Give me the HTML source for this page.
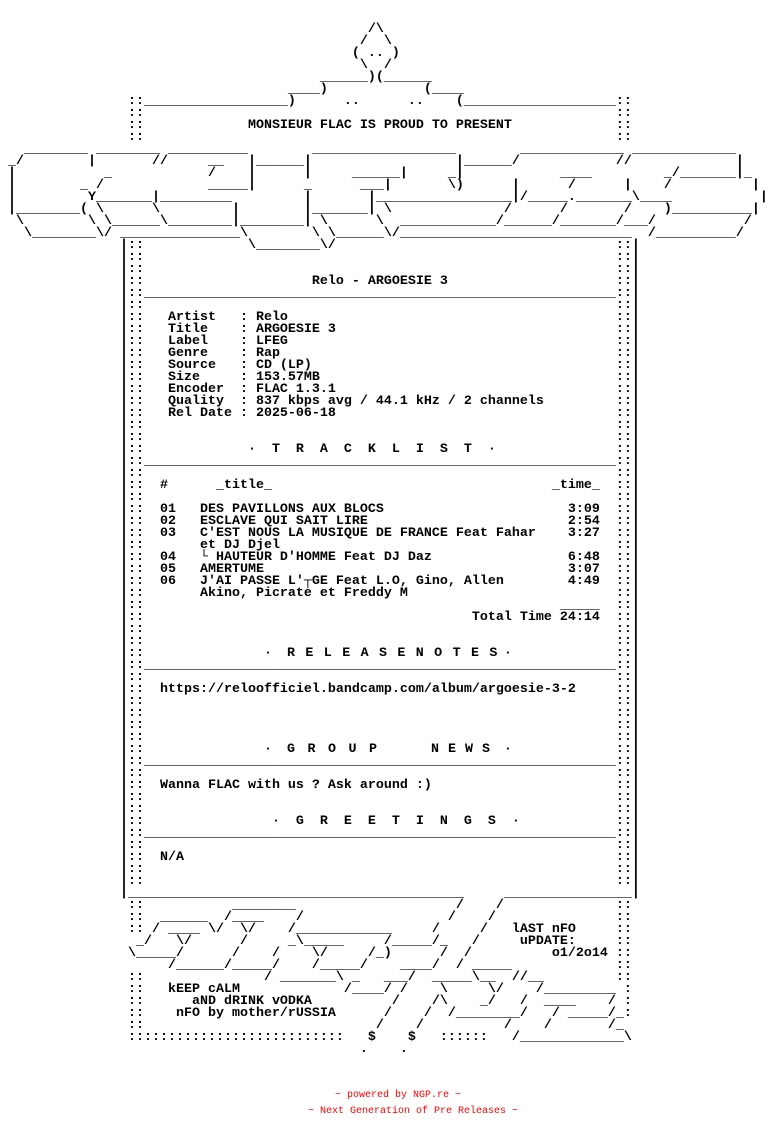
<!DOCTYPE html>
<html><head><meta charset="utf-8"><style>
html,body{margin:0;padding:0;background:#fff;width:768px;height:1140px;overflow:hidden;position:relative}
pre{position:absolute;left:0;top:0;margin:0;font-family:"Liberation Mono","DejaVu Sans Mono",monospace;font-weight:bold;font-size:13.333px;line-height:12px;color:#000;white-space:pre}
.ov{position:absolute;font-family:"Liberation Mono","DejaVu Sans Mono",monospace;font-weight:bold;font-size:13.333px;line-height:12px;color:#000;white-space:pre}
.ft{position:absolute;font-family:"Liberation Mono","DejaVu Sans Mono",monospace;font-size:10px;line-height:12px;color:#f00;white-space:pre}
</style></head><body>
<pre>


                                              /\
                                             /  \
                                            ( .. )
                                             \  /
                                        ______)(______
                                    ____)            (____
                ::__________________)      ..      ..    (___________________::
                ::                                                           ::
                ::             MONSIEUR FLAC IS PROUD TO PRESENT             ::
                ::                                                           ::
   ________ ________ __________        __________________        _____________ _____________
 _/        |       //     __   |______|                  |______/            //             |
 |           _            /    |      |     ______|     _|            ____         _/_______|_
 |        _ /             _____|      _      ___|       \)      |      /      |    /          |
 |         Y_______|_________         |       |_________________|/_____._______\____           |
 |________( \      \         |        |_______| \              /      /       /    )__________|
  \        \ \______\________|________| \      \  ____________/______/_______/___/           /
   \________\/ _______________\        \ \______\/_____________________________  /__________/
               |::             \________\/                                   ::|
               |::                                                           ::|
               |::                                                           ::|
               |::                     Relo - ARGOESIE 3                     ::|
               |::___________________________________________________________::|
               |::                                                           ::|
               |::   Artist   : Relo                                         ::|
               |::   Title    : ARGOESIE 3                                   ::|
               |::   Label    : LFEG                                         ::|
               |::   Genre    : Rap                                          ::|
               |::   Source   : CD (LP)                                      ::|
               |::   Size     : 153.57MB                                     ::|
               |::   Encoder  : FLAC 1.3.1                                   ::|
               |::   Quality  : 837 kbps avg / 44.1 kHz / 2 channels         ::|
               |::   Rel Date : 2025-06-18                                   ::|
               |::                                                           ::|
               |::                                                           ::|
               |::             ·  T  R  A  C  K  L  I  S  T  ·               ::|
               |::___________________________________________________________::|
               |::                                                           ::|
               |::  #      _title_                                   _time_  ::|
               |::                                                           ::|
               |::  01   DES PAVILLONS AUX BLOCS                       3:09  ::|
               |::  02   ESCLAVE QUI SAIT LIRE                         2:54  ::|
               |::  03   C'EST NOUS LA MUSIQUE DE FRANCE Feat Fahar    3:27  ::|
               |::       et DJ Djel                                          ::|
               |::  04   └ HAUTEUR D'HOMME Feat DJ Daz                 6:48  ::|
               |::  05   AMERTUME                                      3:07  ::|
               |::  06   J'AI PASSE L'┬GE Feat L.O, Gino, Allen        4:49  ::|
               |::       Akino, Picrate et Freddy M                          ::|
               |::                                                    _____  ::|
               |::                                         Total Time 24:14  ::|
               |::                                                           ::|
               |::                                                           ::|
               |::               ·                             ·             ::|
               |::___________________________________________________________::|
               |::                                                           ::|
               |::  https://reloofficiel.bandcamp.com/album/argoesie-3-2     ::|
               |::                                                           ::|
               |::                                                           ::|
               |::                                                           ::|
               |::                                                           ::|
               |::               ·                             ·             ::|
               |::___________________________________________________________::|
               |::                                                           ::|
               |::  Wanna FLAC with us ? Ask around :)                       ::|
               |::                                                           ::|
               |::                                                           ::|
               |::                ·  G  R  E  E  T  I  N  G  S  ·            ::|
               |::___________________________________________________________::|
               |::                                                           ::|
               |::  N/A                                                      ::|
               |::                                                           ::|
               |::                                                           ::|
               |__________________________________________     ________________|
                ::           ________                    /    /              ::
                ::  ______  /____    /                  /    /               ::
                :: / ____ \/  \/    /____________     /     /   lAST nFO     ::
                 _/   \/      /     _\_____     /_____/_   /     uPDATE:     ::
                \_____/      /    /    \/     /_)      /  /          o1/2o14 ::
                     /______/_____/    /_____/    ____/  / _____             ::
                ::               / _______\ _   ___/  _____\__  //__         ::
                ::   kEEP cALM             /____/ /    \     \/    /_________ :
                ::      aND dRINK vODKA          /    /\    _/   /  ____    / :
                ::    nFO by mother/rUSSIA      /    /  /________/   / _____/_:
                ::                             /    /          /    /       /_
                :::::::::::::::::::::::::::   $    $   ::::::   /_____________\
                                             .    .
</pre>
<div class="ov" style="left:287px;top:648px;letter-spacing:10.4px">RELEASENOTES</div>
<div class="ov" style="left:287px;top:744px;letter-spacing:12.5px">GROUP</div>
<div class="ov" style="left:431px;top:744px;letter-spacing:9px">NEWS</div>
<div class="ft" style="left:335px;top:1090px">~ powered by NGP.re ~</div>
<div class="ft" style="left:308px;top:1106px">~ Next Generation of Pre Releases ~</div>
</body></html>
